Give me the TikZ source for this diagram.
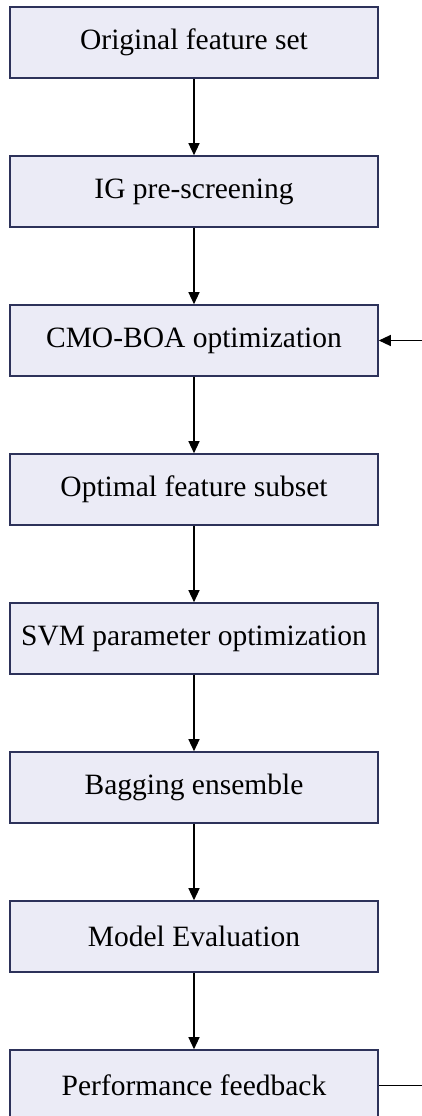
\documentclass[tikz,border=0pt]{standalone}
\usepackage{fontspec}
\setmainfont{Liberation Serif}
\usetikzlibrary{positioning,arrows.meta}
\definecolor{boxfill}{RGB}{235,235,246}
\definecolor{boxline}{RGB}{45,50,90}

\begin{document}
\begin{tikzpicture}[x=1pt,y=1pt,
    process/.style ={rectangle, draw=boxline, fill=boxfill, line width=1.6pt,
                     minimum width=368pt, minimum height=71pt, inner sep=0pt,
                     font=\fontsize{29.5}{34}\selectfont},
    flow/.style ={line width=1.3pt, -{Triangle[width=11pt,length=12pt]}},
    node distance=76.4pt]
   \clip (0,0) rectangle (422,-1116);
   \node[process] (A) at (194,-42.5) {Original feature set};
   \node[process] (B) [below=of A] {IG pre-screening};
   \node[process] (C) [below=of B] {CMO-BOA optimization};
   \node[process] (D) [below=of C] {Optimal feature subset};
   \node[process] (E) [below=of D] {SVM parameter optimization};
   \node[process] (F) [below=of E] {Bagging ensemble};
   \node[process] (G) [below=of F] {Model Evaluation};
   \node[process] (H) [below=of G] {Performance feedback};
   \coordinate (R) at ([xshift=70pt]H.east);

   \draw[flow] (A) to (B);
   \draw[flow] (B) to (C);
   \draw[flow] (C) to (D);
   \draw[flow] (D) to (E);
   \draw[flow] (E) to (F);
   \draw[flow] (F) to (G);
   \draw[flow] (G) to (H);
   \draw[flow] (H.east) -- (R) |- (C.east);
 \end{tikzpicture}
\end{document}
